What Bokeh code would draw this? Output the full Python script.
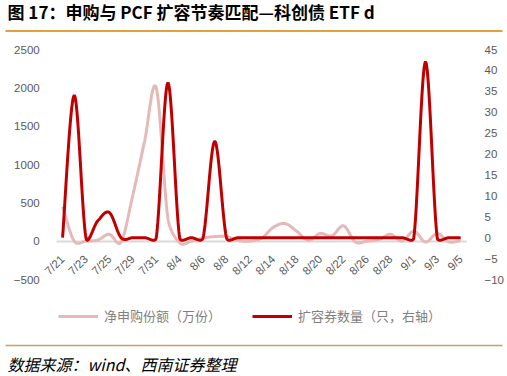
import math
import numpy as np
from bokeh.plotting import figure
from bokeh.models import Range1d, LinearAxis, FixedTicker, Legend, LegendItem
from bokeh.embed import file_html
from bokeh.resources import INLINE
from bokeh.core.properties import value

# ---------------- data ----------------
dates = ["7/21", "7/22", "7/23", "7/24", "7/25", "7/28", "7/29", "7/30", "7/31", "8/1",
         "8/4", "8/5", "8/6", "8/7", "8/8", "8/11", "8/12", "8/13", "8/14", "8/15",
         "8/18", "8/19", "8/20", "8/21", "8/22", "8/25", "8/26", "8/27", "8/28", "8/29",
         "9/1", "9/2", "9/3", "9/4", "9/5"]
# 净申购份额（万份） left axis
net_subscription = [450, 0, 0, 15, 90, -10, 600, 1300, 2000, 300,
                    -20, 0, 40, 60, 60, 10, 0, 40, 180, 230,
                    130, 10, 100, 70, 200, -10, 0, 20, 90, 0,
                    130, -10, 100, -10, 10]
# 扩容券数量（只） right axis
expansion_count = [0, 34, 0, 4, 6, 0, 0, 0, 0, 37,
                   0, 0, 0, 23, 0, 0, 0, 0, 0, 0,
                   0, 0, 0, 0, 0, 0, 0, 0, 0, 0,
                   0, 42, 0, 0, 0]
left_ticks = [-500, 0, 500, 1000, 1500, 2000, 2500]
right_ticks = [-10, -5, 0, 5, 10, 15, 20, 25, 30, 35, 40, 45]
label_every = 2

title_text = "图 17：申购与 PCF 扩容节奏匹配—科创债 ETF d"
source_text = "数据来源：wind、西南证券整理"
legend_labels = ["净申购份额（万份）", "扩容券数量（只，右轴）"]

# ---------------- style / layout ----------------
FONT_CN = "Noto Sans CJK SC"
FONT_NUM = "Liberation Sans"
PINK = "#E6B9B8"
RED = "#C00000"
TICK_COLOR = "#595959"
W, H = 507, 376
# plot area in canvas pixels (top-left origin)
PX_LEFT, PX_RIGHT = 56.2, 466.0
PX_TOP, PX_BOTTOM = 49.0, 279.0

n = len(dates)
SX = (PX_RIGHT - PX_LEFT) / n                                    # px per category
SY_L = (PX_BOTTOM - PX_TOP) / (left_ticks[-1] - left_ticks[0])   # px per left unit
SY_R = (PX_BOTTOM - PX_TOP) / (right_ticks[-1] - right_ticks[0])  # px per right unit


def smooth(ys, sy, steps=30):
    """Excel-style smoothed line: Bezier segments with 1/6 control arms,
    limited to half the segment length (measured in screen pixels)."""
    P = np.column_stack([np.arange(len(ys)) * SX, np.asarray(ys, float) * sy])
    m = len(P)
    xo, yo = [], []
    for i in range(m - 1):
        p0 = P[i - 1] if i > 0 else P[i]
        p1, p2 = P[i], P[i + 1]
        p3 = P[i + 2] if i + 2 < m else P[i + 1]
        d02 = np.hypot(*(p2 - p0))
        d12 = np.hypot(*(p2 - p1))
        d13 = np.hypot(*(p3 - p1))
        f = 1 / 6 if d02 / 6 < d12 / 2 or d02 == 0 else d12 / d02 / 2
        g = 1 / 6 if d13 / 6 < d12 / 2 or d13 == 0 else d12 / d13 / 2
        c1 = p1 + (p2 - p0) * f
        c2 = p2 - (p3 - p1) * g
        t = np.linspace(0, 1, steps, endpoint=(i == m - 2))[:, None]
        b = (1 - t) ** 3 * p1 + 3 * (1 - t) ** 2 * t * c1 + 3 * (1 - t) * t ** 2 * c2 + t ** 3 * p2
        xo.extend((b[:, 0] / SX).tolist())
        yo.extend((b[:, 1] / sy).tolist())
    return xo, yo


def span_range(lo, hi, px_lo, px_hi, total):
    """Range over the whole canvas such that lo..hi map onto px_lo..px_hi."""
    k = (hi - lo) / (px_hi - px_lo)
    return lo - px_lo * k, lo + (total - px_lo) * k


x0, x1 = span_range(-0.5, n - 0.5, PX_LEFT, PX_RIGHT, W)
yl0, yl1 = span_range(left_ticks[0], left_ticks[-1], H - PX_BOTTOM, H - PX_TOP, H)
yr0, yr1 = span_range(right_ticks[0], right_ticks[-1], H - PX_BOTTOM, H - PX_TOP, H)

p = figure(width=W, height=H, x_range=Range1d(x0, x1), y_range=Range1d(yl0, yl1),
           output_backend="svg", toolbar_location=None, min_border=0)
p.grid.visible = False
p.outline_line_color = None
p.extra_y_ranges = {"right": Range1d(yr0, yr1), "px": Range1d(H, 0)}
p.extra_x_ranges = {"px": Range1d(0, W)}

# ---------------- data lines ----------------
xs1, ys1 = smooth(net_subscription, SY_L)
r1 = p.line(xs1, ys1, line_color=PINK, line_width=3)
xs2, ys2 = smooth(expansion_count, SY_R)
r2 = p.line(xs2, ys2, line_color=RED, line_width=3, y_range_name="right")

# ---------------- axes ----------------
xt = list(range(0, n, label_every))
xa = p.xaxis[0]
xa.ticker = FixedTicker(ticks=xt)
xa.major_label_overrides = {i: dates[i] for i in xt}
xa.fixed_location = 0
xa.bounds = (-0.5, n - 0.5)
xa.axis_line_color = "#D9D9D9"
xa.axis_line_width = 2
xa.level = "underlay"
xa.major_tick_line_color = None
xa.minor_tick_line_color = None
xa.major_label_orientation = math.pi / 4
xa.major_label_standoff = 10
xa.major_label_text_font = FONT_NUM
xa.major_label_text_font_size = "11.5px"
xa.major_label_text_color = TICK_COLOR

ya = p.yaxis[0]
ya.ticker = FixedTicker(ticks=left_ticks)
ya.fixed_location = -0.5
ya.axis_line_color = None
ya.major_tick_line_color = None
ya.minor_tick_line_color = None
ya.major_label_standoff = 11
ya.major_label_text_font = FONT_NUM
ya.major_label_text_font_size = "11.5px"
ya.major_label_text_color = TICK_COLOR

ry = LinearAxis(y_range_name="right", ticker=FixedTicker(ticks=right_ticks), fixed_location=n - 0.5)
ry.axis_line_color = None
ry.major_tick_line_color = None
ry.minor_tick_line_color = None
ry.major_label_standoff = 12
ry.major_label_text_font = FONT_NUM
ry.major_label_text_font_size = "11.5px"
ry.major_label_text_color = TICK_COLOR
p.add_layout(ry, "right")

# ---------------- legend ----------------
legend = Legend(items=[LegendItem(label=legend_labels[0], renderers=[r1]),
                       LegendItem(label=legend_labels[1], renderers=[r2])],
                location=(58, H - 325), orientation="horizontal",
                glyph_width=40, glyph_height=14, label_height=14, label_standoff=6,
                spacing=31, padding=0, margin=0, border_line_color=None,
                background_fill_alpha=0, label_text_font=FONT_CN,
                label_text_font_size="13px", label_text_color="#808080")
p.add_layout(legend)

# ---------------- title, rules, source ----------------
p.text(x=[7], y=[11], text=[title_text], text_font=value(FONT_CN), text_font_style="bold",
       text_font_size="17px", text_baseline="middle", text_align="left", text_color="#000000",
       x_range_name="px", y_range_name="px")
p.segment(x0=[5], y0=[30.5], x1=[502], y1=[30.5], line_color="#E3A13B", line_width=2,
          x_range_name="px", y_range_name="px")
p.segment(x0=[5], y0=[345], x1=[502], y1=[345], line_color="#C9A063", line_width=1.5,
          x_range_name="px", y_range_name="px")
p.text(x=[7], y=[363], text=[source_text], text_font=value(FONT_CN), text_font_style="italic",
       text_font_size="16px", text_baseline="middle", text_align="left", text_color="#000000",
       x_range_name="px", y_range_name="px")

open("out.html", "w").write(file_html(p, INLINE))
